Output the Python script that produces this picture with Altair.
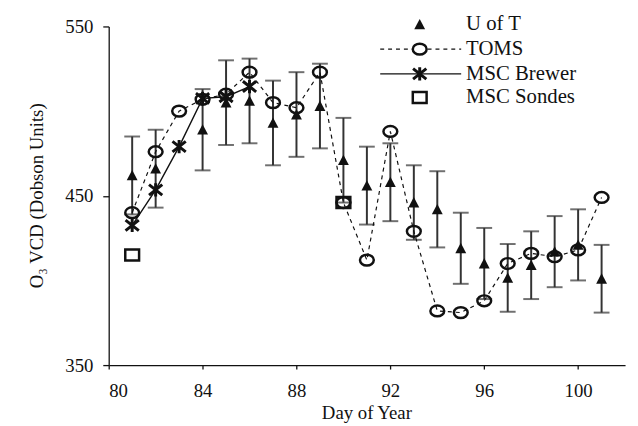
import altair as alt
import pandas as pd

# ---------------- data ----------------
uoft_days = [81, 82, 84, 85, 86, 87, 88, 89, 90, 91, 92, 93, 94, 95, 96, 97, 98, 99, 100, 101]
uoft_vals = [462, 466, 489, 505, 506, 493, 498, 503, 471, 456, 458, 446, 442, 419, 410, 401.5, 409, 417, 421, 401]
uoft_errs = [23, 23, 24, 25, 25, 25, 25, 25, 25, 23, 23, 22, 22.5, 21, 21, 20, 20, 21, 21, 20]

toms_days = [81, 82, 83, 84, 85, 86, 87, 88, 89, 90, 91, 92, 93, 94, 95, 96, 97, 98, 99, 100, 101]
toms_vals = [440, 476, 500, 507, 510, 523, 505, 502, 523, 446, 412, 488, 429, 382, 381, 388, 410, 416, 414, 418, 449]

brewer_days = [81, 82, 83, 84, 85, 86]
brewer_vals = [432.5, 453.5, 479, 507.5, 508.5, 514.5]

sondes_days = [81, 90]
sondes_vals = [415, 446]

x_ticks = [80, 84, 88, 92, 96, 100]
y_ticks = [350, 450, 550]

legend_labels = ["U of T", "TOMS", "MSC Brewer", "MSC Sondes"]

# ---------------- frames ----------------
uoft = pd.DataFrame({"day": uoft_days, "v": uoft_vals, "e": uoft_errs})
uoft["lo"] = uoft["v"] - uoft["e"]
uoft["hi"] = uoft["v"] + uoft["e"]
toms = pd.DataFrame({"day": toms_days, "v": toms_vals})
brewer = pd.DataFrame({"day": brewer_days, "v": brewer_vals})
sondes = pd.DataFrame({"day": sondes_days, "v": sondes_vals})

FONT = "Liberation Serif, Times New Roman, serif"
INK = "#111111"

ELLIPSE = "M -1 0 A 1 0.78 0 1 1 1 0 A 1 0.78 0 1 1 -1 0 Z"
TRI = "M 0 -1 L 1 0.9 L -1 0.9 Z"
STAR = "M -1 -0.8 L 1 0.8 M 1 -0.8 L -1 0.8 M 0 -1 L 0 1"
RECT = "M -1 -0.8 L 1 -0.8 L 1 0.8 L -1 0.8 Z"

xs = alt.Scale(domain=[80, 102], nice=False, zero=False)
ys = alt.Scale(domain=[350, 550], nice=False, zero=False)

x_axis = alt.Axis(values=x_ticks, title="Day of Year", grid=False, tickSize=4,
                  labelPadding=13, titleX=261, titleY=54, titleBaseline="alphabetic",
                  titleAnchor="middle")
y_axis = alt.Axis(values=y_ticks, title="O\u2083 VCD (Dobson Units)", grid=False, tickSize=6,
                  labelPadding=10, titleX=-73, titleY=171, titleAngle=270,
                  titleBaseline="middle", titleAlign="center")

X = alt.X("day:Q", scale=xs, axis=x_axis)
Y = alt.Y("v:Q", scale=ys, axis=y_axis)

err_rule = alt.Chart(uoft).mark_rule(color="#333333", strokeWidth=2).encode(
    x=alt.X("day:Q", scale=xs, axis=x_axis), y=alt.Y("lo:Q", scale=ys, axis=y_axis), y2="hi:Q")
cap_lo = alt.Chart(uoft).mark_tick(orient="horizontal", color="#333333", size=16, thickness=2).encode(
    x=alt.X("day:Q", scale=xs), y=alt.Y("lo:Q", scale=ys))
cap_hi = alt.Chart(uoft).mark_tick(orient="horizontal", color="#333333", size=16, thickness=2).encode(
    x=alt.X("day:Q", scale=xs), y=alt.Y("hi:Q", scale=ys))

toms_line = alt.Chart(toms).mark_line(color=INK, strokeWidth=1.2, strokeDash=[4, 4]).encode(x=X, y=Y)
toms_pts = alt.Chart(toms).mark_point(shape=ELLIPSE, size=196, filled=False, color=INK,
                                      strokeWidth=2.5, opacity=1).encode(x=X, y=Y)
brewer_line = alt.Chart(brewer).mark_line(color=INK, strokeWidth=1.4).encode(x=X, y=Y)
brewer_pts = alt.Chart(brewer).mark_point(shape=STAR, size=180, filled=False, color=INK,
                                          strokeWidth=3, opacity=1).encode(x=X, y=Y)
uoft_pts = alt.Chart(uoft).mark_point(shape=TRI, size=121, filled=True, color=INK,
                                      opacity=1).encode(x=X, y=Y)
sondes_pts = alt.Chart(sondes).mark_point(shape=RECT, size=196, filled=False, color=INK,
                                          strokeWidth=2.5, opacity=1).encode(x=X, y=Y)

# ---------------- manual legend (pixel placement) ----------------
leg_y = [-2, 23, 48, 72]
mx, lx1, lx2, tx = 315, 275, 357, 362
one = pd.DataFrame({"a": [0]})
leg = []
leg.append(alt.Chart(one).mark_point(shape=TRI, size=121, filled=True, color=INK, opacity=1)
           .encode(x=alt.value(mx), y=alt.value(leg_y[0])))
leg.append(alt.Chart(one).mark_rule(color=INK, strokeWidth=1.2, strokeDash=[4, 4])
           .encode(x=alt.value(lx1), x2=alt.value(lx2), y=alt.value(leg_y[1])))
leg.append(alt.Chart(one).mark_point(shape=ELLIPSE, size=196, filled=True, fill="white", stroke=INK,
                                     strokeWidth=2.5, opacity=1)
           .encode(x=alt.value(mx), y=alt.value(leg_y[1])))
leg.append(alt.Chart(one).mark_rule(color=INK, strokeWidth=1.4)
           .encode(x=alt.value(lx1), x2=alt.value(lx2), y=alt.value(leg_y[2])))
leg.append(alt.Chart(one).mark_point(shape=STAR, size=180, filled=False, color=INK, strokeWidth=3, opacity=1)
           .encode(x=alt.value(mx), y=alt.value(leg_y[2])))
leg.append(alt.Chart(one).mark_point(shape=RECT, size=196, filled=False, color=INK, strokeWidth=2.5, opacity=1)
           .encode(x=alt.value(mx), y=alt.value(leg_y[3])))
for lab, yy in zip(legend_labels, leg_y):
    leg.append(alt.Chart(one).mark_text(text=lab, font=FONT, fontSize=21, align="left",
                                        baseline="middle", color=INK)
               .encode(x=alt.value(tx), y=alt.value(yy)))

chart = alt.layer(err_rule, cap_lo, cap_hi, toms_line, brewer_line, toms_pts, brewer_pts,
                  uoft_pts, sondes_pts, *leg).properties(
    width=523, height=343,
    background="white",
    autosize=alt.AutoSizeParams(type="none"),
    padding={"left": 102, "top": 16, "right": 5, "bottom": 59},
).configure_view(stroke=None).configure_axis(
    domainColor=INK, domainWidth=1.3, tickColor=INK, tickWidth=1.3,
    labelFont=FONT, labelFontSize=19, labelColor=INK,
    titleFont=FONT, titleFontSize=19, titleColor=INK, titleFontWeight="normal",
)

chart.save("out.html", embed_options={"renderer": "svg", "actions": False})
